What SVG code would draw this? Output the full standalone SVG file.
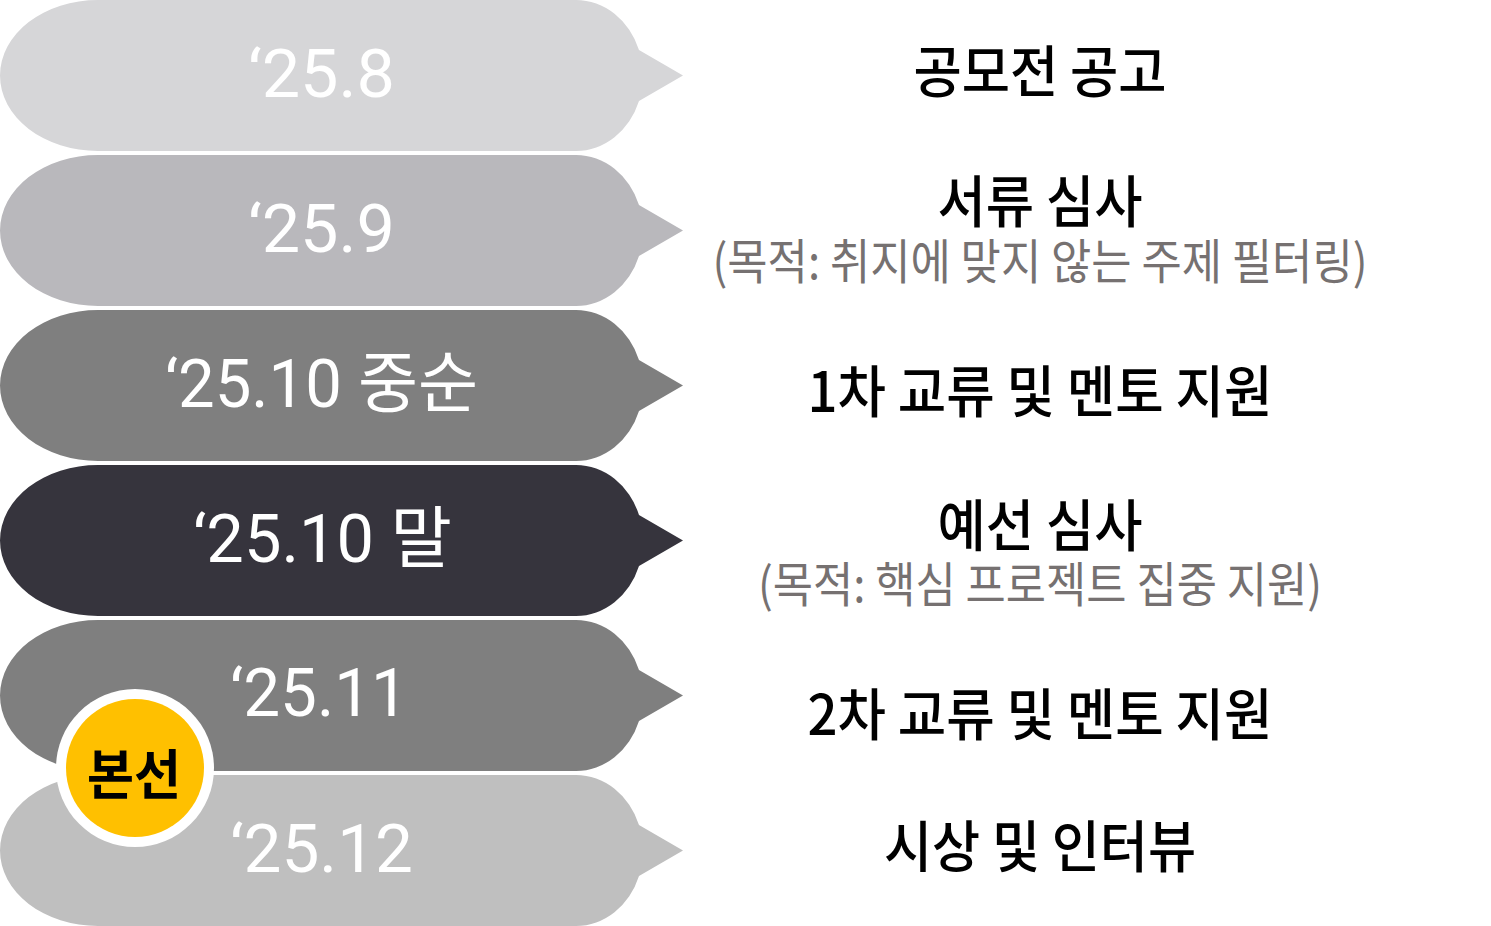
<svg xmlns="http://www.w3.org/2000/svg" width="1491" height="926" viewBox="0 0 1491 926">
<style>
.date{font-family:Roboto,"Noto Sans CJK KR",sans-serif;font-size:67px;fill:#ffffff;}
.title{font-family:"Noto Sans CJK KR","Noto Sans",sans-serif;font-size:56px;font-weight:500;fill:#000000;text-anchor:middle;}
.sub{font-family:"Noto Sans CJK KR","Noto Sans",sans-serif;font-size:48px;font-weight:400;fill:#767171;text-anchor:middle;}
.badge{font-family:"Noto Sans CJK KR","Noto Sans",sans-serif;font-size:54px;font-weight:700;fill:#000000;text-anchor:middle;}
</style>
<defs>
<path id="bubble" d="M98,0 H576 A67,75.5 0 0 1 639,50 L683,75.5 L639,101 A67,75.5 0 0 1 576,151 H98 A98,75.5 0 0 1 98,0 Z"/>
</defs>
<rect width="1491" height="926" fill="#ffffff"/>
<g id="connectors"></g>
<g id="step1">
<use href="#bubble" x="0" y="0" fill="#d6d6d8"/>
<text class="date" x="248" y="97" textLength="147" lengthAdjust="spacingAndGlyphs">‘25.8</text>
<text class="title" x="1040" y="92" textLength="253" lengthAdjust="spacingAndGlyphs">공모전 공고</text>
</g>
<g id="step2">
<use href="#bubble" x="0" y="155" fill="#b9b8bc"/>
<text class="date" x="248" y="252" textLength="147" lengthAdjust="spacingAndGlyphs">‘25.9</text>
<text class="title" x="1040" y="222" textLength="205" lengthAdjust="spacingAndGlyphs">서류 심사</text>
<text class="sub" x="1040" y="279" textLength="655" lengthAdjust="spacingAndGlyphs">(목적: 취지에 맞지 않는 주제 필터링)</text>
</g>
<g id="step3">
<use href="#bubble" x="0" y="310" fill="#7f7f7f"/>
<text class="date" x="165" y="407" textLength="313" lengthAdjust="spacingAndGlyphs">‘25.10 중순</text>
<text class="title" x="1040" y="412" textLength="465" lengthAdjust="spacingAndGlyphs">1차 교류 및 멘토 지원</text>
</g>
<g id="step4">
<use href="#bubble" x="0" y="465" fill="#36343d"/>
<text class="date" x="193" y="562" textLength="259" lengthAdjust="spacingAndGlyphs">‘25.10 말</text>
<text class="title" x="1040" y="546" textLength="205" lengthAdjust="spacingAndGlyphs">예선 심사</text>
<text class="sub" x="1040" y="602" textLength="564" lengthAdjust="spacingAndGlyphs">(목적: 핵심 프로젝트 집중 지원)</text>
</g>
<g id="step5">
<use href="#bubble" x="0" y="620" fill="#7f7f7f"/>
<text class="date" x="230" y="716" textLength="178" lengthAdjust="spacingAndGlyphs">‘25.11</text>
<text class="title" x="1040" y="735" textLength="465" lengthAdjust="spacingAndGlyphs">2차 교류 및 멘토 지원</text>
</g>
<g id="step6">
<use href="#bubble" x="0" y="775" fill="#bfbfbf"/>
<text class="date" x="230" y="872" textLength="183" lengthAdjust="spacingAndGlyphs">‘25.12</text>
<text class="title" x="1040" y="867" textLength="312" lengthAdjust="spacingAndGlyphs">시상 및 인터뷰</text>
</g>
<g id="badge">
<circle cx="135" cy="768" r="79" fill="#ffffff"/>
<circle cx="135" cy="768" r="69" fill="#ffc000"/>
<text class="badge" x="134" y="795" textLength="94" lengthAdjust="spacingAndGlyphs">본선</text>
</g>
</svg>
